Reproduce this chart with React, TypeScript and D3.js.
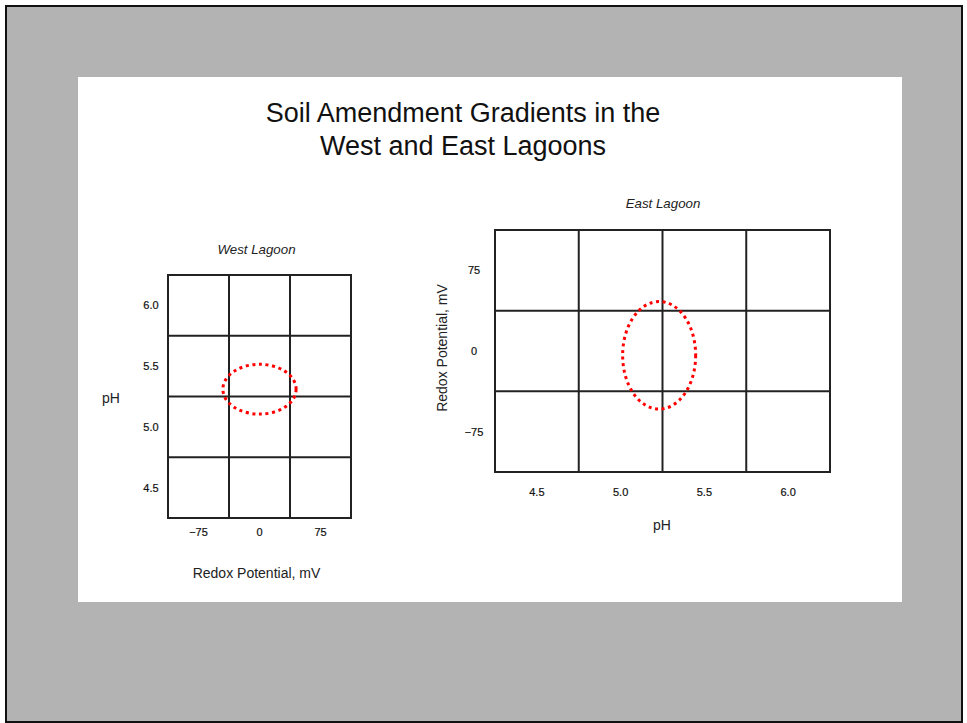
import React from "react";
import * as d3 from "d3";

const titleLines = ["Soil Amendment Gradients in the", "West and East Lagoons"];

// West Lagoon: x = Redox potential (mV), y = pH
const westXTicks = [-75, 0, 75];
const westXGrid = [-37.5, 37.5];
const westXDomain = [-112.5, 112.5];
const westYTicks = [4.5, 5.0, 5.5, 6.0];
const westYGrid = [4.75, 5.25, 5.75];
const westYDomain = [4.25, 6.25];
const westEllipse = { cx: 0, cy: 5.31, rx: 45, ry: 0.205 };

// East Lagoon: x = pH, y = Redox potential (mV)
const eastXTicks = [4.5, 5.0, 5.5, 6.0];
const eastXGrid = [4.75, 5.25, 5.75];
const eastXDomain = [4.25, 6.25];
const eastYTicks = [-75, 0, 75];
const eastYGrid = [-37.5, 37.5];
const eastYDomain = [-112.5, 112.5];
const eastEllipse = { cx: 5.23, cy: -4, rx: 0.218, ry: 50 };

const FONT = "'Liberation Sans', Arial, sans-serif";
const LINE = "#222";

function fmtRedox(v: number) {
  return v < 0 ? "\u2212" + Math.abs(v) : String(v);
}
function fmtPH(v: number) {
  return v.toFixed(1);
}

type PanelProps = {
  box: { x0: number; x1: number; y0: number; y1: number };
  xDomain: number[];
  yDomain: number[];
  xTicks: number[];
  yTicks: number[];
  xGrid: number[];
  yGrid: number[];
  xFmt: (v: number) => string;
  yFmt: (v: number) => string;
  ellipse: { cx: number; cy: number; rx: number; ry: number };
  yLabelX: number;
  xLabelY: number;
};

function Panel(p: PanelProps) {
  const x = d3.scaleLinear().domain(p.xDomain).range([p.box.x0, p.box.x1]);
  const y = d3.scaleLinear().domain(p.yDomain).range([p.box.y1, p.box.y0]);
  const e = p.ellipse;
  const ecx = x(e.cx);
  const ecy = y(e.cy);
  const erx = Math.abs(x(e.cx + e.rx) - ecx);
  const ery = Math.abs(y(e.cy + e.ry) - ecy);
  return (
    <g>
      {p.xGrid.map((v) => (
        <line key={"xg" + v} x1={x(v)} x2={x(v)} y1={p.box.y0} y2={p.box.y1} stroke={LINE} strokeWidth={2} />
      ))}
      {p.yGrid.map((v) => (
        <line key={"yg" + v} x1={p.box.x0} x2={p.box.x1} y1={y(v)} y2={y(v)} stroke={LINE} strokeWidth={2} />
      ))}
      <rect
        x={p.box.x0}
        y={p.box.y0}
        width={p.box.x1 - p.box.x0}
        height={p.box.y1 - p.box.y0}
        fill="none"
        stroke={LINE}
        strokeWidth={2}
      />
      <ellipse
        cx={ecx}
        cy={ecy}
        rx={erx}
        ry={ery}
        fill="none"
        stroke="#ff0000"
        strokeWidth={3}
        strokeDasharray="3 3.6"
      />
      {p.xTicks.map((v) => (
        <text
          key={"xt" + v}
          x={x(v)}
          y={p.xLabelY}
          textAnchor="middle"
          fontFamily={FONT}
          fontSize={11}
          fill="#111"
          stroke="#111"
          strokeWidth={0.2}
        >
          {p.xFmt(v)}
        </text>
      ))}
      {p.yTicks.map((v) => (
        <text
          key={"yt" + v}
          x={p.yLabelX}
          y={y(v) + 4}
          textAnchor="middle"
          fontFamily={FONT}
          fontSize={11}
          fill="#111"
          stroke="#111"
          strokeWidth={0.2}
        >
          {p.yFmt(v)}
        </text>
      ))}
    </g>
  );
}

export default function App() {
  return (
    <svg
      width={967}
      height={723}
      style={{ position: "absolute", left: 0, top: 0, display: "block" }}
      fontFamily={FONT}
    >
      <rect x={0} y={0} width={967} height={723} fill="#ffffff" />
      <rect x={6} y={6} width={956} height={716} fill="#b3b3b3" stroke="#111" strokeWidth={2} />
      <rect x={78} y={77} width={824} height={525} fill="#ffffff" />

      {titleLines.map((t, i) => (
        <text key={t} x={463} y={122 + i * 33} textAnchor="middle" fontSize={27} fill="#111">
          {t}
        </text>
      ))}

      {/* West Lagoon */}
      <text x={256.5} y={254} textAnchor="middle" fontSize={13.3} fontStyle="italic" fill="#222">
        West Lagoon
      </text>
      <Panel
        box={{ x0: 168, x1: 351, y0: 275, y1: 518 }}
        xDomain={westXDomain}
        yDomain={westYDomain}
        xTicks={westXTicks}
        yTicks={westYTicks}
        xGrid={westXGrid}
        yGrid={westYGrid}
        xFmt={fmtRedox}
        yFmt={fmtPH}
        ellipse={westEllipse}
        yLabelX={151}
        xLabelY={536}
      />
      <text x={111} y={403} textAnchor="middle" fontSize={14} fill="#222">
        pH
      </text>
      <text x={256.5} y={578} textAnchor="middle" fontSize={14} fill="#222">
        Redox Potential, mV
      </text>

      {/* East Lagoon */}
      <text x={663} y={208} textAnchor="middle" fontSize={13.3} fontStyle="italic" fill="#222">
        East Lagoon
      </text>
      <Panel
        box={{ x0: 495, x1: 830, y0: 230, y1: 472 }}
        xDomain={eastXDomain}
        yDomain={eastYDomain}
        xTicks={eastXTicks}
        yTicks={eastYTicks}
        xGrid={eastXGrid}
        yGrid={eastYGrid}
        xFmt={fmtPH}
        yFmt={fmtRedox}
        ellipse={eastEllipse}
        yLabelX={474}
        xLabelY={496}
      />
      <text
        transform="translate(447,348) rotate(-90)"
        textAnchor="middle"
        fontSize={14}
        fill="#222"
      >
        Redox Potential, mV
      </text>
      <text x={662} y={530} textAnchor="middle" fontSize={14} fill="#222">
        pH
      </text>
    </svg>
  );
}
